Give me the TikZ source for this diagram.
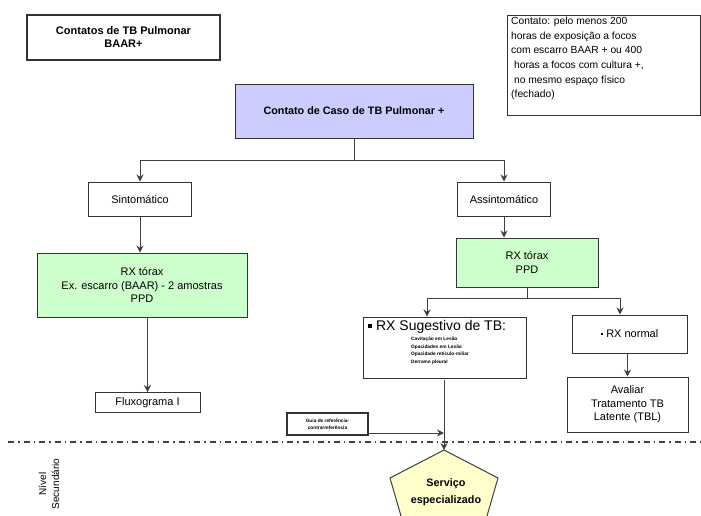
\documentclass[tikz,border=0pt]{standalone}
\usepackage{fontspec}
\setmainfont{Liberation Sans}
\usetikzlibrary{arrows.meta}
\begin{document}
\begin{tikzpicture}[x=1pt,y=-1pt,
  box/.style={draw=black!80,line width=1pt,align=center,inner sep=0pt,font=\fontsize{11}{13.5}\selectfont},
  arr/.style={draw=black!75,line width=1pt,-{Stealth[length=7pt,width=7pt]}},
  ln/.style={draw=black!75,line width=1pt}]
\useasboundingbox (0,0) rectangle (701,515);
\clip (0,0) rectangle (701,515);
% title
\node[box,line width=1.4pt,minimum width=193pt,minimum height=45pt,font=\bfseries\fontsize{11}{13}\selectfont] (title) at (123.5,37.5) {Contatos de TB Pulmonar\\BAAR+};
% note
\node[box,minimum width=193pt,minimum height=100pt] (note) at (603.5,65) {};
\node[anchor=north west,align=left,inner sep=0pt,font=\fontsize{10.3}{14.6}\selectfont] (notetext) at (511,17) {Contato: pelo menos 200\\horas de exposição a focos\\com escarro BAAR + ou 400\\\ horas a focos com cultura +,\\\ no mesmo espaço físico\\(fechado)};
% main
\node[box,fill={rgb,255:red,204;green,204;blue,255},minimum width=238pt,minimum height=54pt,font=\bfseries\fontsize{10.8}{13}\selectfont] (main) at (354,111) {Contato de Caso de TB Pulmonar +};
\node[box,minimum width=103pt,minimum height=34pt] (sint) at (140,199) {Sintomático};
\node[box,minimum width=93pt,minimum height=34pt] (assint) at (504,199) {Assintomático};
\coordinate (j1) at (354,160);
\coordinate (jl) at (140,160);
\coordinate (jr) at (504,160);
\draw[ln] (main.south) -- (j1);
\draw[ln] (jl) -- (jr);
\draw[arr] (jl) -- (sint.north);
\draw[arr] (jr) -- (assint.north);
% green boxes
\node[box,fill={rgb,255:red,204;green,255;blue,204},minimum width=210pt,minimum height=64pt] (gl) at (142,285) {RX tórax\\Ex. escarro (BAAR) - 2 amostras\\PPD};
\node[box,fill={rgb,255:red,204;green,255;blue,204},minimum width=142pt,minimum height=49pt] (gr) at (527,262.5) {RX tórax\\PPD};
\draw[arr] (sint.south) -- (sint.south |- gl.north);
\draw[arr] (assint.south) -- (assint.south |- gr.north);
% fluxograma
\node[box,minimum width=105pt,minimum height=20pt] (flux) at (147.5,402.5) {Fluxograma I};
\draw[arr] (gl.south -| flux) -- (flux.north);
% split
\coordinate (j2) at (527,298);
\coordinate (j2l) at (427,298);
\coordinate (j2r) at (620,298);
\draw[ln] (gr.south) -- (j2);
\draw[ln] (j2l) -- (j2r);
\node[box,minimum width=163pt,minimum height=61pt] (sug) at (444.5,347.5) {};
\node[anchor=north west,inner sep=0pt,font=\fontsize{14}{15}\selectfont] (sugt) at (368,320) {\raisebox{2pt}{\rule{4pt}{4pt}}\ RX Sugestivo de TB:};
\node[anchor=north west,align=left,inner sep=0pt,font=\bfseries\fontsize{4.8}{7.6}\selectfont] (sugl) at (411,337) {Cavitação em Lesão\\Opacidades em Lesão\\Opacidade retículo-miliar\\Derrame pleural};
\node[box,minimum width=115pt,minimum height=38pt] (norm) at (629.5,334) {\raisebox{2.5pt}{\rule{2.5pt}{2.5pt}} RX normal};
\node[box,minimum width=121pt,minimum height=55pt] (aval) at (627.5,404.5) {Avaliar\\Tratamento TB\\Latente (TBL)};
\draw[arr] (j2l) -- (j2l |- sug.north);
\draw[arr] (j2r) -- (j2r |- norm.north);
\draw[arr] (aval.north |- norm.south) -- (aval.north);
% guia
\node[box,line width=1.2pt,minimum width=81pt,minimum height=22pt,font=\bfseries\fontsize{4.8}{7}\selectfont] (guia) at (327.5,424) {Guia de referência-\\contrarreferência};
\coordinate (ga) at (444,433);
\draw[arr] (guia.east |- ga) -- (ga);
% dash-dot level line
\coordinate (lvA) at (8,442);
\coordinate (lvB) at (701,442);
\draw[black!75,line width=1.3pt,dash pattern=on 6pt off 4pt on 1.5pt off 4pt] (lvA) -- (lvB);
% pentagon
\coordinate (pt) at (444,450);
\draw[black!75,line width=1pt,fill={rgb,255:red,255;green,255;blue,204}] (pt) -- (498,478) -- (480,540) -- (408,540) -- (390,478) -- cycle;
\node[inner sep=0pt,align=center,font=\bfseries\fontsize{10.8}{17}\selectfont] (serv) at (446,492) {Serviço\\especializado};
\draw[arr] (444,380) -- (pt);
% nivel
\node[rotate=90,inner sep=0pt,align=center,font=\fontsize{10}{13}\selectfont] (niv) at (49,484) {Nível\\Secundário};
\end{tikzpicture}
\end{document}
